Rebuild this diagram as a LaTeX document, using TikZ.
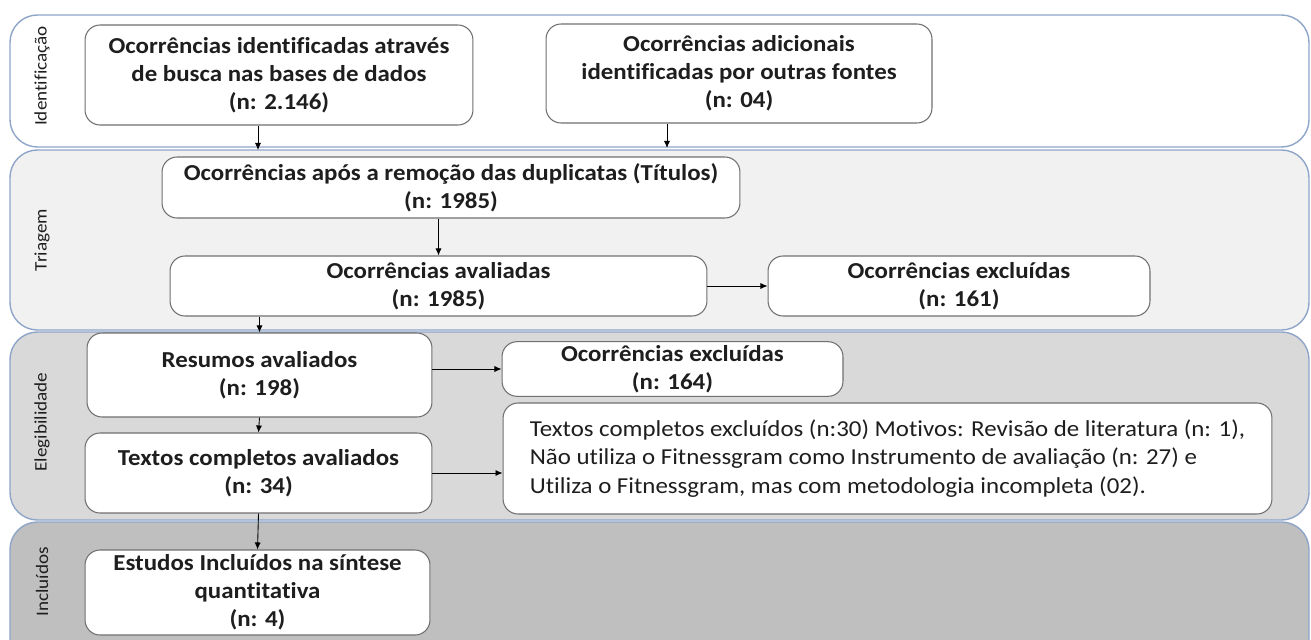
\documentclass[tikz,border=0pt]{standalone}
\usepackage{fontspec}
\setmainfont[FakeStretch=1.09, Ligatures={NoCommon}]{Carlito}
\usetikzlibrary{arrows.meta}
\definecolor{bandline}{HTML}{8EA5C8}
\definecolor{boxline}{HTML}{707070}
\definecolor{txt}{HTML}{1E1E1E}
\definecolor{triagem}{HTML}{F1F1F1}
\definecolor{elegib}{HTML}{D9D9D9}
\definecolor{incl}{HTML}{BFBFBF}

\begin{document}
\begin{tikzpicture}[x=0.02cm,y=-0.02cm,
  band/.style={draw=bandline, line width=0.8pt, rounded corners=0.55cm},
  box/.style={draw=boxline, fill=white, rounded corners=0.3cm, line width=0.6pt, align=center, inner sep=2pt, text=txt, font=\bfseries\fontsize{13}{16}\selectfont},
  phase/.style={rotate=90, text=txt, font=\fontsize{10}{12}\selectfont},
  seta/.style={-{Latex[length=4pt,width=3.5pt]}, line width=0.5pt}]
\useasboundingbox (0,0) rectangle (1311,639);

\draw[band, fill=white] (10,15) rectangle (1309,147);
\draw[band, fill=triagem] (10,150) rectangle (1309,330);
\draw[band, fill=elegib] (10,332) rectangle (1309,520);
\draw[band, fill=incl] (10,522) rectangle (1309,700);

\node[phase] (fase1) at (42,76) {Identificação};
\node[phase] (fase2) at (42,240) {Triagem};
\node[phase] (fase3) at (42,422) {Elegibilidade};
\node[phase] (fase4) at (42,582) {Incluídos};

\node[box, minimum width=7.76cm, minimum height=2cm] (bases) at (279,75) {Ocorrências identificadas através\\de busca nas bases de dados\\(n: 2.146)};
\node[box, minimum width=7.72cm, minimum height=1.98cm] (fontes) at (739,73.5) {Ocorrências adicionais\\identificadas por outras fontes\\(n: 04)};
\node[box, minimum width=11.56cm, minimum height=1.22cm] (dup) at (451,187.5) {Ocorrências após a remoção das duplicatas (Títulos)\\(n: 1985)};
\node[box, minimum width=10.74cm, minimum height=1.2cm] (aval) at (438.5,286) {Ocorrências avaliadas\\(n: 1985)};
\node[box, minimum width=7.64cm, minimum height=1.2cm] (exc1) at (959,286) {Ocorrências excluídas\\(n: 161)};
\node[box, minimum width=6.9cm, minimum height=1.68cm] (resumos) at (259.5,375) {Resumos avaliados\\(n: 198)};
\node[box, minimum width=6.82cm, minimum height=1.08cm] (exc2) at (672.5,369) {Ocorrências excluídas\\(n: 164)};
\node[box, minimum width=6.94cm, minimum height=1.6cm] (textos) at (258.5,473) {Textos completos avaliados\\(n: 34)};
\node[box, minimum width=15.38cm, minimum height=2.22cm, align=left, font=\fontsize{13}{16}\selectfont] (exc3) at (887.5,458.5) {Textos completos excluídos (n:30) Motivos: Revisão de literatura (n: 1),\\Não utiliza o Fitnessgram como Instrumento de avaliação (n: 27) e\\Utiliza o Fitnessgram, mas com metodologia incompleta (02).};
\node[box, minimum width=6.9cm, minimum height=1.7cm] (estudos) at (257.5,592.5) {Estudos Incluídos na síntese\\quantitativa\\(n: 4)};

\coordinate (p1) at (258,150);
\coordinate (p2) at (667,148);
\draw[seta] (bases.south -| p1) -- (p1);
\draw[seta] (fontes.south -| p2) -- (p2);
\draw[seta] (dup.south -| aval.north) -- (aval.north);
\draw[seta] (aval.east) -- (aval.east -| exc1.west);
\draw[seta] (aval.south -| resumos.north) -- (resumos.north);
\draw[seta] (exc2.west -| resumos.east) -- (exc2.west);
\draw[seta] (resumos.south) -- (textos.north);
\draw[seta] (textos.east) -- (textos.east -| exc3.west);
\draw[seta] (textos.south) -- (estudos.north);
\end{tikzpicture}
\end{document}
